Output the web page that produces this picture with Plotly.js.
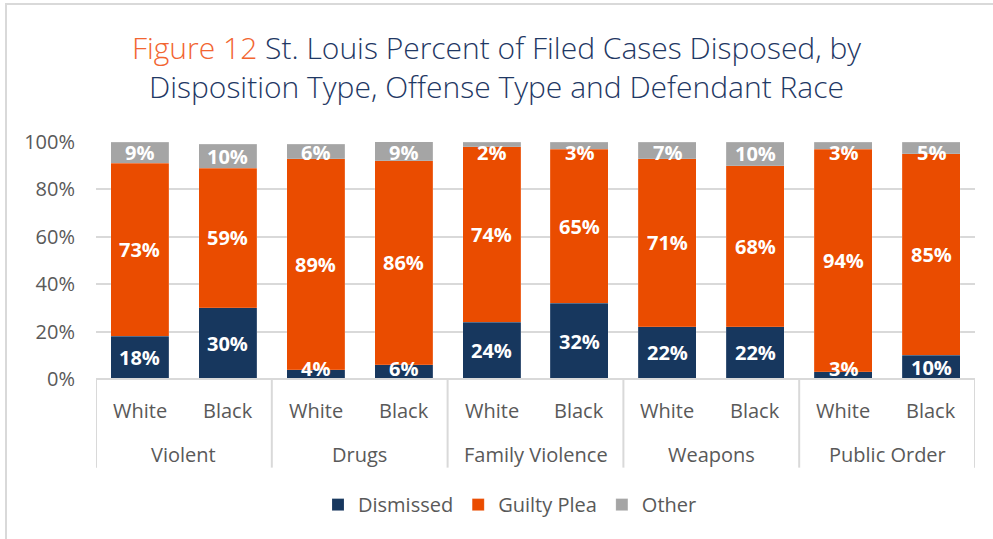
<!DOCTYPE html>
<html>
<head>
<meta charset="utf-8">
<script src="https://cdn.plot.ly/plotly-3.0.1.min.js"></script>
<style>
html,body{margin:0;padding:0;background:#fff;}
#frame{position:absolute;left:5px;top:3px;width:1000px;height:540px;border-top:2px solid #d9d9d9;border-left:2px solid #d9d9d9;}
#chart{position:absolute;left:0;top:0;width:993px;height:539px;}
</style>
</head>
<body>
<div id="frame"></div>
<div id="chart"></div>
<script>
const offenseGroups = ["Violent","Drugs","Family Violence","Weapons","Public Order"];
const offenses = ["Violent","Violent","Drugs","Drugs","Family Violence","Family Violence","Weapons","Weapons","Public Order","Public Order"];
const races = ["White","Black","White","Black","White","Black","White","Black","White","Black"];
const dismissed = [18,30,4,6,24,32,22,22,3,10];
const guiltyPlea = [73,59,89,86,74,65,71,68,94,85];
const other = [9,10,6,9,2,3,7,10,3,5];
const seriesNames = ["Dismissed","Guilty Plea","Other"];
const seriesColors = ["#17375e","#ea4c00","#a5a5a5"];

const FONT = "Open Sans, sans-serif";
const cats = offenses.map((o,i)=>o+" | "+races[i]);
const vals = [dismissed, guiltyPlea, other];

const traces = vals.map((v,i)=>({
  type:"bar",
  name:seriesNames[i],
  x:cats,
  y:v,
  marker:{color:seriesColors[i],line:{color:"rgba(255,255,255,0.3)",width:0.5}},
  hoverinfo:"skip"
}));

// data labels, kept inside the plot area like the original
const annotations = [];
const base = cats.map(()=>0);
vals.forEach((v)=>{
  v.forEach((d,j)=>{
    let c = base[j] + d/2;
    c = Math.max(4.3, Math.min(95.5, c));
    annotations.push({x:cats[j],y:c,xref:"x",yref:"y",text:d+"%",showarrow:false,
      font:{family:FONT,size:20,color:"#ffffff",weight:"bold"},xanchor:"center",yanchor:"middle"});
    base[j] += d;
  });
});
// race labels
races.forEach((r,j)=>{
  annotations.push({x:j,y:-0.131,xref:"x",yref:"paper",text:r,showarrow:false,
    font:{family:FONT,size:20,color:"#595959"},xanchor:"center",yanchor:"middle"});
});
// offense group labels
offenseGroups.forEach((g,k)=>{
  annotations.push({x:2*k+0.5,y:-0.32,xref:"x",yref:"paper",text:g,showarrow:false,
    font:{family:FONT,size:20,color:"#595959"},xanchor:"center",yanchor:"middle"});
});

const shapes = [];
for(let k=0;k<=offenseGroups.length;k++){
  shapes.push({type:"line",xref:"x",yref:"paper",x0:2*k-0.5,x1:2*k-0.5,y0:0,y1:-0.374,
    line:{color:"#d9d9d9",width:2}});
}
shapes.push({type:"line",xref:"paper",yref:"paper",x0:0,x1:1,y0:0,y1:0,line:{color:"#d9d9d9",width:2}});

const layout = {
  width:993,height:539,
  barmode:"stack",
  bargap:0.34,
  paper_bgcolor:"rgba(0,0,0,0)",
  plot_bgcolor:"rgba(0,0,0,0)",
  margin:{l:96,r:18,t:142,b:160},
  title:{
    text:'<span style="color:#f26531">Figure 12</span> St. Louis Percent of Filed Cases Disposed, by<br>Disposition Type, Offense Type and Defendant Race',
    font:{family:FONT,size:30,color:"#1f3864",weight:300},
    x:0.5,xanchor:"center",yref:"container",y:0.89,yanchor:"middle"
  },
  font:{family:FONT,color:"#595959"},
  xaxis:{
    type:"category",
    showticklabels:false,
    showline:false,
    ticks:"",
    range:[-0.5,9.5],
    fixedrange:true
  },
  yaxis:{
    range:[0,100],
    dtick:20,
    ticksuffix:"%",
    tickfont:{size:20,color:"#595959"},
    ticklabelstandoff:20,
    gridcolor:"#d9d9d9",gridwidth:2,
    zeroline:false,
    showline:false,
    ticklen:0,
    fixedrange:true
  },
  legend:{
    orientation:"h",
    x:0.471,xanchor:"center",
    y:-0.53,yanchor:"middle",
    font:{size:20,color:"#595959"},
    traceorder:"normal",
    itemwidth:30
  },
  showlegend:true,
  annotations:annotations,
  shapes:shapes
};

Plotly.newPlot("chart",traces,layout,{displayModeBar:false,staticPlot:true});
</script>
</body>
</html>
